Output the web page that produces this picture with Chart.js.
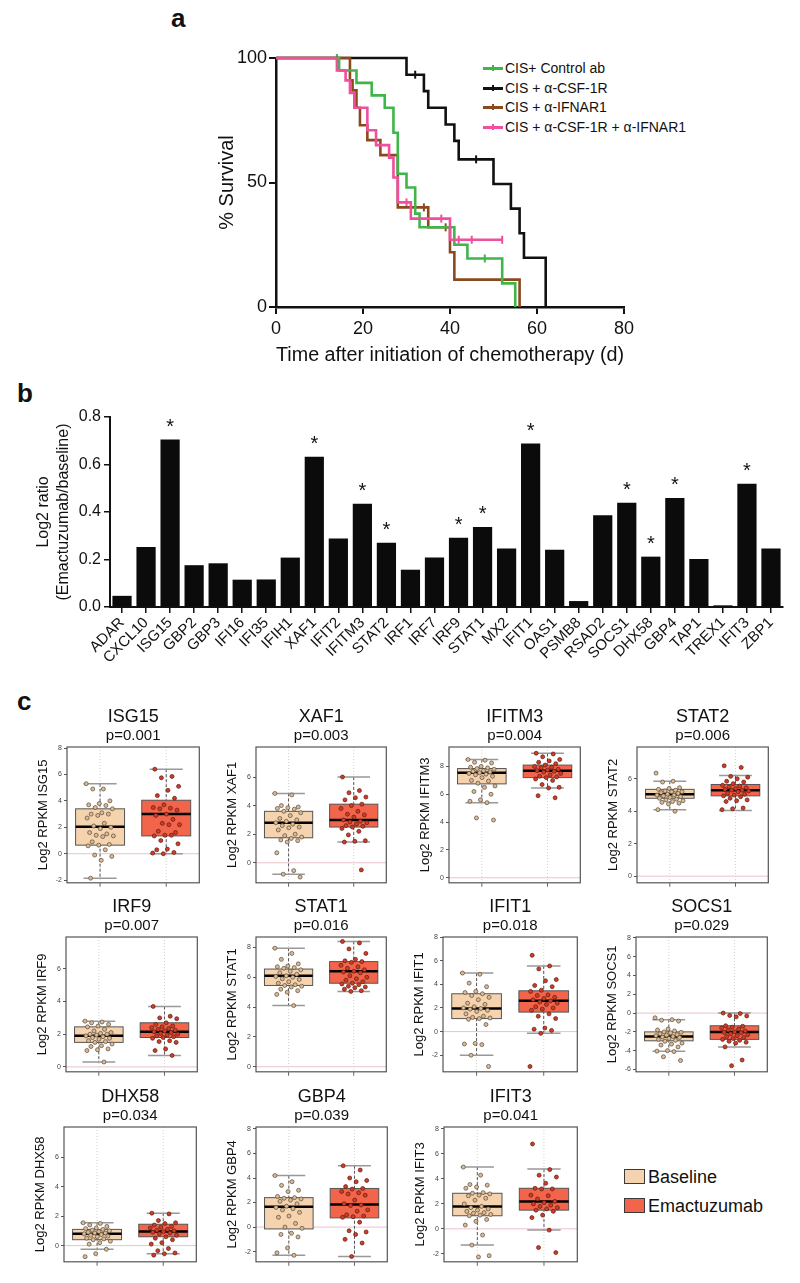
<!DOCTYPE html>
<html>
<head>
<meta charset="utf-8">
<script src="https://cdn.jsdelivr.net/npm/chart.js@4.4.1/dist/chart.umd.min.js"></script>
<style>
  html, body { margin: 0; padding: 0; background: #fff; overflow: hidden; }
  body { font-family: 'Liberation Sans', Arial, sans-serif; color: #111; }
  #page { position: relative; width: 800px; height: 1283px; overflow: hidden; }
  canvas { position: absolute; }
  .letter { position: absolute; font-weight: bold; font-size: 26px; line-height: 26px; }
  .kmkey { position: absolute; font-size: 14px; line-height: 16px; white-space: nowrap; }
  .kmkey i { position: absolute; left: -22px; top: 7px; width: 20px; height: 2.5px; }
  .kmkey i b { position: absolute; left: 9px; top: -2px; width: 2px; height: 6px; background: inherit; }
  .key { position: absolute; font-size: 18px; line-height: 20px; white-space: nowrap; }
  .key span { position: absolute; left: -24px; top: 2px; width: 19px; height: 13px; border: 1px solid #3a3a3a; }
</style>
</head>
<body>
<div id="page">
  <div class="letter" style="left:171px;top:5px">a</div>
  <div class="letter" style="left:17px;top:380px">b</div>
  <div class="letter" style="left:17px;top:688px">c</div>

  <div class="kmkey" style="left:505px;top:60px"><i style="background:#3fb54a"><b></b></i>CIS+ Control ab</div>
  <div class="kmkey" style="left:505px;top:80px"><i style="background:#111"><b></b></i>CIS + α-CSF-1R</div>
  <div class="kmkey" style="left:505px;top:99px"><i style="background:#8b4a1e"><b></b></i>CIS + α-IFNAR1</div>
  <div class="kmkey" style="left:505px;top:119px"><i style="background:#ef4f9c"><b></b></i>CIS + α-CSF-1R + α-IFNAR1</div>

  <div class="key" style="left:648px;top:1167px"><span style="background:#f5d3ae"></span>Baseline</div>
  <div class="key" style="left:648px;top:1196px"><span style="background:#f2654b"></span>Emactuzumab</div>
</div>
<script>
// ---------- panel a: survival (time in days, % survival at each drop) ----------
const kmControlT = [0, 14.5, 18.5, 22, 25, 27, 28, 30, 32, 33, 41, 44, 52, 55];
const kmControlS = [100, 95, 90, 85, 80, 70, 53.5, 48, 37.5, 32, 25, 19.5, 9.5, 0];
const kmCsfT = [0, 30, 34, 35, 39, 41, 42, 50, 54, 56, 57, 62];
const kmCsfS = [100, 93.3, 86.7, 80, 73.3, 66.7, 59.3, 49.4, 39.5, 29.6, 19.8, 0];
const kmIfnarT = [0, 17, 17.6, 18.5, 19.3, 21, 24, 28, 35, 40, 41, 56];
const kmIfnarS = [100, 91, 87, 80, 73, 67, 61, 40, 32, 22, 11, 0];
const kmBothT = [0, 14, 16, 17, 18, 21, 23, 26, 27, 28, 31, 40, 52];
const kmBothS = [100, 95, 91, 86, 80, 71, 65, 60, 52, 42, 35.5, 27, 27];
// censored observations
const censControlT = [14, 48], censControlS = [100, 19.5];
const censCsfT = [32, 46], censCsfS = [93.3, 59.3];
const censIfnarT = [34, 39], censIfnarS = [40, 32];
const censBothT = [30, 38, 42, 45, 52], censBothS = [42, 35.5, 27, 27, 27];
const xTicksA = [0, 20, 40, 60, 80];
const yTicksA = [0, 50, 100];

// ---------- panel b: log2 ratio ----------
const genesB = ['ADAR','CXCL10','ISG15','GBP2','GBP3','IFI16','IFI35','IFIH1','XAF1','IFIT2','IFITM3','STAT2','IRF1','IRF7',
  'IRF9','STAT1','MX2','IFIT1','OAS1','PSMB8','RSAD2','SOCS1','DHX58','GBP4','TAP1','TREX1','IFIT3','ZBP1'];
const ratiosB = [0.047, 0.253, 0.705, 0.176, 0.184, 0.115, 0.116, 0.208, 0.633, 0.288, 0.435, 0.271, 0.157, 0.208,
  0.292, 0.337, 0.246, 0.688, 0.241, 0.025, 0.386, 0.439, 0.212, 0.459, 0.202, 0.007, 0.519, 0.246];
const starredB = [0,0,1,0,0,0,0,0,1,0,1,1,0,0,1,1,0,1,0,0,0,1,1,1,0,0,1,0];

// ---------- panel c: per-patient log2 RPKM, baseline vs emactuzumab ----------
// box = [lower whisker, Q1, median, Q3, upper whisker]
const isg15Base = [5.3,4.9,4.9,4.0,3.8,3.7,3.65,3.5,3.4,3.1,3.0,3.0,2.9,2.7,2.3,2.1,2.0,1.9,1.6,1.5,1.4,1.35,1.3,0.9,0.7,0.65,0.6,0.3,-0.1,-0.2,-0.5,-1.85];
const isg15Ema = [6.4,5.85,5.75,5.1,4.8,4.4,4.2,3.7,3.5,3.45,3.4,3.3,3.0,2.9,2.6,2.3,2.2,2.2,1.7,1.6,1.4,1.35,1.4,1.0,0.75,0.35,0.3,0.1,0.0,0.05];
const isg15Box = [[-1.85,0.65,2.05,3.4,5.3],[0.0,1.35,3.0,4.05,6.4]];
const xaf1Base = [4.85,4.75,4.0,3.9,3.85,3.8,3.75,3.6,3.5,3.3,3.1,3.0,2.9,2.8,2.7,2.6,2.5,2.45,2.3,2.0,1.9,1.8,1.7,1.6,1.55,1.45,0.7,-0.55,-0.8,-1.0];
const xaf1Ema = [6.0,5.05,4.9,4.6,4.55,4.4,4.1,4.0,3.8,3.6,3.4,3.35,3.2,3.0,2.9,2.85,2.8,2.7,2.6,2.55,2.5,2.4,2.2,1.95,1.55,1.5,1.45,-0.5];
const xaf1Box = [[-0.8,1.75,2.8,3.6,4.85],[1.45,2.5,3.0,4.1,6.0]];
const ifitm3Base = [8.5,8.45,8.3,8.25,8.0,7.95,7.9,7.85,7.8,7.7,7.65,7.6,7.55,7.5,7.45,7.4,7.3,7.2,7.0,6.95,6.8,6.6,6.5,6.2,6.0,5.6,5.5,5.4,4.3,4.15];
const ifitm3Ema = [8.95,8.9,8.7,8.5,8.4,8.3,8.2,8.1,8.0,7.95,7.9,7.8,7.75,7.7,7.65,7.6,7.5,7.4,7.3,7.25,7.2,7.1,7.0,6.7,6.5,6.45,5.9,5.75];
const ifitm3Box = [[5.4,6.75,7.55,7.85,8.5],[6.45,7.2,7.7,8.1,8.95]];
const stat2Base = [6.35,5.85,5.8,5.45,5.4,5.35,5.3,5.25,5.2,5.2,5.15,5.1,5.05,5.0,5.0,4.95,4.9,4.85,4.8,4.75,4.7,4.65,4.6,4.55,4.5,4.45,4.1,4.0];
const stat2Ema = [6.8,6.7,6.15,6.1,6.0,5.85,5.8,5.7,5.6,5.55,5.5,5.45,5.4,5.35,5.3,5.3,5.25,5.2,5.1,5.05,5.0,4.95,4.9,4.8,4.7,4.65,4.6,4.2,4.15,4.1];
const stat2Box = [[4.1,4.8,5.05,5.35,5.85],[4.05,4.95,5.3,5.65,6.2]];
const irf9Base = [2.8,2.75,2.7,2.6,2.5,2.45,2.3,2.2,2.1,2.05,2.0,2.0,1.95,1.9,1.85,1.8,1.75,1.7,1.6,1.55,1.5,1.4,1.3,1.25,1.1,1.05,1.0,0.3];
const irf9Ema = [3.7,3.1,3.0,2.95,2.7,2.6,2.5,2.45,2.4,2.35,2.3,2.25,2.2,2.15,2.1,2.05,2.0,1.95,1.9,1.85,1.8,1.75,1.6,1.55,1.5,1.1,1.0,0.7];
const irf9Box = [[0.3,1.5,1.9,2.45,2.8],[0.7,1.8,2.15,2.7,3.7]];
const stat1Base = [7.95,7.6,7.2,6.9,6.75,6.7,6.65,6.6,6.5,6.4,6.3,6.2,6.1,6.05,6.0,5.9,5.85,5.7,5.6,5.5,5.45,5.4,5.35,5.2,5.1,5.0,4.85,4.1];
const stat1Ema = [8.4,8.3,7.9,7.6,7.2,7.1,7.05,7.0,6.8,6.7,6.6,6.5,6.4,6.35,6.3,6.1,6.0,5.9,5.8,5.7,5.6,5.55,5.5,5.4,5.35,5.3,5.2,5.1,5.05];
const stat1Box = [[4.1,5.45,6.1,6.55,7.95],[5.05,5.6,6.4,7.05,8.4]];
const ifit1Base = [4.95,4.85,4.1,3.8,3.4,3.3,3.2,3.05,2.9,2.7,2.4,2.3,2.1,2.0,1.95,1.9,1.8,1.7,1.5,1.3,1.2,1.15,1.1,1.05,0.6,-1.0,-1.05,-1.1,-2.0,-2.95];
const ifit1Ema = [6.45,5.55,5.3,4.4,4.3,3.9,3.8,3.5,3.4,3.1,3.05,2.9,2.8,2.7,2.6,2.5,2.4,2.3,2.1,2.0,1.9,1.8,1.5,1.3,1.1,0.3,0.2,0.1,-0.15,-2.95];
const ifit1Box = [[-2.0,1.1,1.95,3.2,4.95],[-0.15,1.65,2.6,3.45,5.55]];
const socs1Base = [-0.5,-0.7,-0.75,-0.85,-1.7,-1.8,-1.9,-2.0,-2.05,-2.1,-2.2,-2.3,-2.35,-2.4,-2.5,-2.55,-2.6,-2.7,-2.8,-2.9,-3.0,-3.2,-3.3,-3.4,-3.6,-4.0,-4.05,-4.1,-4.65,-5.05];
const socs1Ema = [0.0,-0.05,-0.25,-0.3,-0.4,-1.35,-1.4,-1.5,-1.6,-1.7,-1.8,-1.9,-2.0,-2.05,-2.1,-2.2,-2.3,-2.4,-2.5,-2.6,-2.7,-2.8,-2.9,-3.0,-3.1,-3.2,-3.6,-5.0,-5.6];
const socs1Box = [[-4.05,-2.95,-2.5,-2.0,-0.7],[-3.6,-2.8,-2.0,-1.35,0.0]];
const dhx58Base = [1.55,1.5,1.4,1.3,1.2,1.15,1.1,1.05,1.0,0.95,0.9,0.85,0.85,0.8,0.75,0.7,0.65,0.6,0.5,0.45,0.4,0.3,0.2,0.1,-0.25,-0.55,-0.75];
const dhx58Ema = [2.2,2.15,1.7,1.55,1.5,1.4,1.3,1.25,1.2,1.1,1.05,1.0,0.95,0.9,0.85,0.8,0.7,0.6,0.5,0.4,0.2,0.1,-0.2,-0.35,-0.5,-0.55,-0.65];
const dhx58Box = [[-0.25,0.4,0.8,1.1,1.55],[-0.55,0.6,0.95,1.45,2.2]];
const gbp4Base = [4.2,3.7,3.4,3.0,2.9,2.5,2.4,2.35,2.3,2.2,2.1,1.9,1.7,1.6,1.5,1.4,1.2,0.9,0.8,0.3,0.0,-0.1,-0.5,-0.6,-0.8,-1.7,-2.1,-2.3];
const gbp4Ema = [5.0,4.65,4.0,3.8,3.7,3.3,3.15,3.1,2.9,2.8,2.7,2.6,2.2,1.9,1.8,1.75,1.4,1.3,1.0,0.9,0.85,0.8,0.4,-0.3,-0.4,-0.6,-1.0,-1.3,-2.4];
const gbp4Box = [[-2.3,-0.15,1.65,2.4,4.2],[-2.4,0.75,1.85,3.15,5.0]];
const ifit3Base = [4.95,4.3,3.55,3.5,3.35,3.25,2.9,2.85,2.8,2.7,2.65,2.45,2.3,2.0,1.8,1.7,1.6,1.5,1.4,1.3,1.25,1.15,1.1,1.05,0.75,0.6,0.3,-0.5,-1.3,-2.15,-2.25];
const ifit3Ema = [6.8,4.75,4.3,4.15,3.65,3.25,3.2,3.2,2.7,2.65,2.4,2.2,2.1,2.0,1.9,1.8,1.7,1.6,1.5,1.4,1.1,0.9,-0.1,-1.5,-1.9];
const ifit3Box = [[-1.3,1.05,1.8,2.85,4.95],[-0.1,1.5,2.2,3.25,4.8]];

const genesC = ['ISG15','XAF1','IFITM3','STAT2','IRF9','STAT1','IFIT1','SOCS1','DHX58','GBP4','IFIT3'];
const pValuesC = ['p=0.001','p=0.003','p=0.004','p=0.006','p=0.007','p=0.016','p=0.018','p=0.029','p=0.034','p=0.039','p=0.041'];
const baseC = [isg15Base, xaf1Base, ifitm3Base, stat2Base, irf9Base, stat1Base, ifit1Base, socs1Base, dhx58Base, gbp4Base, ifit3Base];
const emaC = [isg15Ema, xaf1Ema, ifitm3Ema, stat2Ema, irf9Ema, stat1Ema, ifit1Ema, socs1Ema, dhx58Ema, gbp4Ema, ifit3Ema];
const boxC = [isg15Box, xaf1Box, ifitm3Box, stat2Box, irf9Box, stat1Box, ifit1Box, socs1Box, dhx58Box, gbp4Box, ifit3Box];
const yMinC = [-2.2, -1.4, -0.36, -0.41, -0.3, -0.34, -3.4, -6.25, -1.1, -2.83, -2.64];
const yMaxC = [8.08, 8.1, 9.4, 7.96, 7.95, 8.7, 8.0, 8.1, 8.05, 8.16, 8.16];
const yTicksC = [[-2,0,2,4,6,8],[0,2,4,6],[0,2,4,6,8],[0,2,4,6],[0,2,4,6],[0,2,4,6,8],
  [-2,0,2,4,6,8],[-6,-4,-2,0,2,4,6,8],[0,2,4,6],[-2,0,2,4,6,8],[-2,0,2,4,6,8]];

// plot boxes on the page (left, right, top, bottom of each panel's plot area)
const cellPos = [
  [67,202,747,883],[256,389,747,883],[449,583,747,883],[637,771,747,883],
  [66,200,937,1072],[256,389,937,1072],[443,580,937,1072],[636,770,937,1072],
  [64,199,1127,1262],[256,390,1127,1262],[444,580,1127,1262]
];

Chart.defaults.font.family = "'Liberation Sans', Arial, sans-serif";
Chart.defaults.color = '#111';
Chart.defaults.animation = false;
Chart.defaults.responsive = false;
Chart.defaults.plugins.legend.display = false;
Chart.defaults.plugins.tooltip.enabled = false;

const page = document.getElementById('page');
function makeCanvas(left, top, w, h) {
  const c = document.createElement('canvas');
  c.width = w; c.height = h;
  c.style.left = left + 'px'; c.style.top = top + 'px';
  c.style.width = w + 'px'; c.style.height = h + 'px';
  page.appendChild(c);
  return c;
}
const toXY = (xs, ys) => xs.map((x, i) => ({x: x, y: ys[i]}));

// ----- panel a -----
const kmSets = [
  {t: kmBothT, s: kmBothS, ct: censBothT, cs: censBothS, color: '#ef4f9c'},
  {t: kmControlT, s: kmControlS, ct: censControlT, cs: censControlS, color: '#3fb54a'},
  {t: kmIfnarT, s: kmIfnarS, ct: censIfnarT, cs: censIfnarS, color: '#8b4a1e'},
  {t: kmCsfT, s: kmCsfS, ct: censCsfT, cs: censCsfS, color: '#111111'}
];
const kmDatasets = [];
kmSets.forEach(k => {
  kmDatasets.push({type: 'line', data: toXY(k.t, k.s), borderColor: k.color, borderWidth: 2.6,
    stepped: true, pointRadius: 0, fill: false, clip: false});
});
kmSets.forEach(k => {
  kmDatasets.push({type: 'scatter', data: toXY(k.ct, k.cs), borderColor: k.color, backgroundColor: k.color,
    pointStyle: 'line', rotation: 90, pointRadius: 4, borderWidth: 2, clip: false});
});

new Chart(makeCanvas(215, 30, 585, 337), {
  type: 'line',
  data: {datasets: kmDatasets},
  options: {
    layout: {padding: {top: 28, right: 176}},
    scales: {
      x: {type: 'linear', min: 0, max: 80,
        afterBuildTicks(s) { s.ticks = xTicksA.map(v => ({value: v})); },
        afterFit(s) { s.height = 60; },
        ticks: {font: {size: 18}, color: '#111', padding: 4},
        grid: {drawOnChartArea: false, tickLength: 7, color: '#111', lineWidth: 2},
        border: {color: '#111', width: 2.5},
        title: {display: true, text: 'Time after initiation of chemotherapy (d)', font: {size: 20}, color: '#111', padding: 0}},
      y: {min: 0, max: 100,
        afterBuildTicks(s) { s.ticks = yTicksA.map(v => ({value: v})); },
        afterFit(s) { s.width = 61; },
        ticks: {font: {size: 18}, color: '#111', padding: 2},
        grid: {drawOnChartArea: false, tickLength: 7, color: '#111', lineWidth: 2},
        border: {color: '#111', width: 2.5},
        title: {display: true, text: '% Survival', font: {size: 20}, color: '#111', padding: 0}}
    }
  }
});

// ----- panel b -----
const starPlugin = {
  id: 'stars',
  afterDatasetsDraw(chart) {
    const meta = chart.getDatasetMeta(0);
    const ctx = chart.ctx;
    ctx.save();
    ctx.fillStyle = '#111';
    ctx.font = "20px 'Liberation Sans', Arial, sans-serif";
    ctx.textAlign = 'center';
    ctx.textBaseline = 'alphabetic';
    starredB.forEach((st, i) => {
      if (!st) return;
      const bar = meta.data[i];
      ctx.fillText('*', bar.x, bar.y - 7);
    });
    ctx.restore();
  }
};

new Chart(makeCanvas(34, 400, 766, 280), {
  type: 'bar',
  data: {labels: genesB, datasets: [{data: ratiosB, backgroundColor: '#0b0b0b', borderWidth: 0,
    barPercentage: 0.8, categoryPercentage: 1}]},
  options: {
    layout: {padding: {top: 17, right: 17}},
    scales: {
      x: {afterFit(s) { s.height = 73; },
        ticks: {autoSkip: false, minRotation: 45, maxRotation: 45, font: {size: 15}, color: '#111', padding: 1},
        grid: {drawOnChartArea: false, tickLength: 6, color: '#111', lineWidth: 1.5, offset: false},
        border: {color: '#111', width: 2}},
      y: {min: 0, max: 0.8,
        afterFit(s) { s.width = 76; },
        ticks: {stepSize: 0.2, font: {size: 16}, color: '#111', padding: 3, callback: v => v.toFixed(1)},
        grid: {drawOnChartArea: false, tickLength: 6, color: '#111', lineWidth: 1.5},
        border: {color: '#111', width: 2},
        title: {display: true, text: ['Log2 ratio', '(Emactuzumab/baseline)'], font: {size: 16, lineHeight: 1.25},
          color: '#111', padding: 0}}
    }
  },
  plugins: [starPlugin]
});

// ----- panel c -----
const boxFills = ['#f5d3ae', '#f2654b'];
const jit = i => (((i * 0.6180339887) % 1) - 0.5) * 0.42;

const boxPlugin = {
  id: 'boxes',
  beforeDatasetsDraw(chart) {
    const o = chart.options.plugins.boxes;
    const {ctx, chartArea: a, scales: {x, y}} = chart;
    const line = (x1, y1, x2, y2) => { ctx.beginPath(); ctx.moveTo(x1, y1); ctx.lineTo(x2, y2); ctx.stroke(); };
    ctx.save();
    ctx.lineWidth = 1;
    ctx.strokeStyle = '#d2d2d2';
    ctx.setLineDash([1, 2]);
    [1, 2].forEach(g => { const px = x.getPixelForValue(g); line(px, a.top, px, a.bottom); });
    ctx.setLineDash([]);
    ctx.strokeStyle = '#e9c3cc';
    const y0 = y.getPixelForValue(0);
    if (y0 > a.top && y0 < a.bottom) line(a.left, y0, a.right, y0);
    o.box.forEach((s, g) => {
      const cx = g + 1;
      const L = x.getPixelForValue(cx - 0.37), R = x.getPixelForValue(cx + 0.37), C = x.getPixelForValue(cx);
      const cl = x.getPixelForValue(cx - 0.25), cr = x.getPixelForValue(cx + 0.25);
      const [lo, q1, med, q3, hi] = s.map(v => y.getPixelForValue(v));
      ctx.strokeStyle = '#555'; ctx.lineWidth = 1; ctx.setLineDash([3, 2]);
      line(C, hi, C, lo);
      ctx.setLineDash([]);
      ctx.strokeStyle = '#999'; ctx.lineWidth = 1.5;
      line(cl, hi, cr, hi); line(cl, lo, cr, lo);
      ctx.fillStyle = boxFills[g];
      ctx.fillRect(L, q3, R - L, q1 - q3);
      ctx.strokeStyle = '#555'; ctx.lineWidth = 1;
      ctx.strokeRect(L, q3, R - L, q1 - q3);
      ctx.strokeStyle = '#000'; ctx.lineWidth = 2.5;
      line(L, med, R, med);
    });
    ctx.restore();
  },
  afterDraw(chart) {
    const o = chart.options.plugins.boxes;
    const {ctx, chartArea: a, scales: {x}} = chart;
    ctx.save();
    ctx.strokeStyle = '#555'; ctx.lineWidth = 1.2;
    ctx.strokeRect(a.left, a.top, a.right - a.left, a.bottom - a.top);
    ctx.strokeStyle = '#666'; ctx.lineWidth = 1;
    [1, 2].forEach(g => {
      const px = x.getPixelForValue(g);
      ctx.beginPath(); ctx.moveTo(px, a.bottom); ctx.lineTo(px, a.bottom + 4); ctx.stroke();
    });
    const mid = (a.left + a.right) / 2;
    ctx.fillStyle = '#111';
    ctx.textAlign = 'center';
    ctx.textBaseline = 'middle';
    ctx.font = "18px 'Liberation Sans', Arial, sans-serif";
    ctx.fillText(o.gene, mid, a.top - 30);
    ctx.font = "15px 'Liberation Sans', Arial, sans-serif";
    ctx.fillText(o.p, mid, a.top - 11);
    ctx.restore();
  }
};

genesC.forEach((gene, k) => {
  const [x0, x1, y0, y1] = cellPos[k];
  const padTop = 46, axisW = 31;
  const left = x0 - axisW, top = y0 - padTop;
  const w = x1 - left + 2, h = y1 - top + 6;
  new Chart(makeCanvas(left, top, w, h), {
    type: 'scatter',
    data: {datasets: [
      {data: baseC[k].map((v, i) => ({x: 1 + jit(i), y: v})), backgroundColor: '#d8bb97', borderColor: '#5b4936',
        borderWidth: 0.7, pointRadius: 2},
      {data: emaC[k].map((v, i) => ({x: 2 + jit(i + 5), y: v})), backgroundColor: '#d23b26', borderColor: '#5a1e14',
        borderWidth: 0.7, pointRadius: 2}
    ]},
    options: {
      layout: {padding: {top: padTop, right: 2}},
      plugins: {boxes: {gene: gene, p: pValuesC[k], box: boxC[k]}},
      scales: {
        x: {type: 'linear', min: 0.5, max: 2.5, afterFit(s) { s.height = 6; },
          ticks: {display: false}, grid: {display: false}, border: {display: false}},
        y: {min: yMinC[k], max: yMaxC[k],
          afterBuildTicks(s) { s.ticks = yTicksC[k].map(v => ({value: v})); },
          afterFit(s) { s.width = axisW; },
          ticks: {font: {size: 7}, color: '#444', padding: 2},
          grid: {drawOnChartArea: false, tickLength: 3, color: '#555'},
          border: {display: false},
          title: {display: true, text: 'Log2 RPKM ' + gene, font: {size: 13}, color: '#111', padding: 0}}
      }
    },
    plugins: [boxPlugin]
  });
});
</script>
</body>
</html>
